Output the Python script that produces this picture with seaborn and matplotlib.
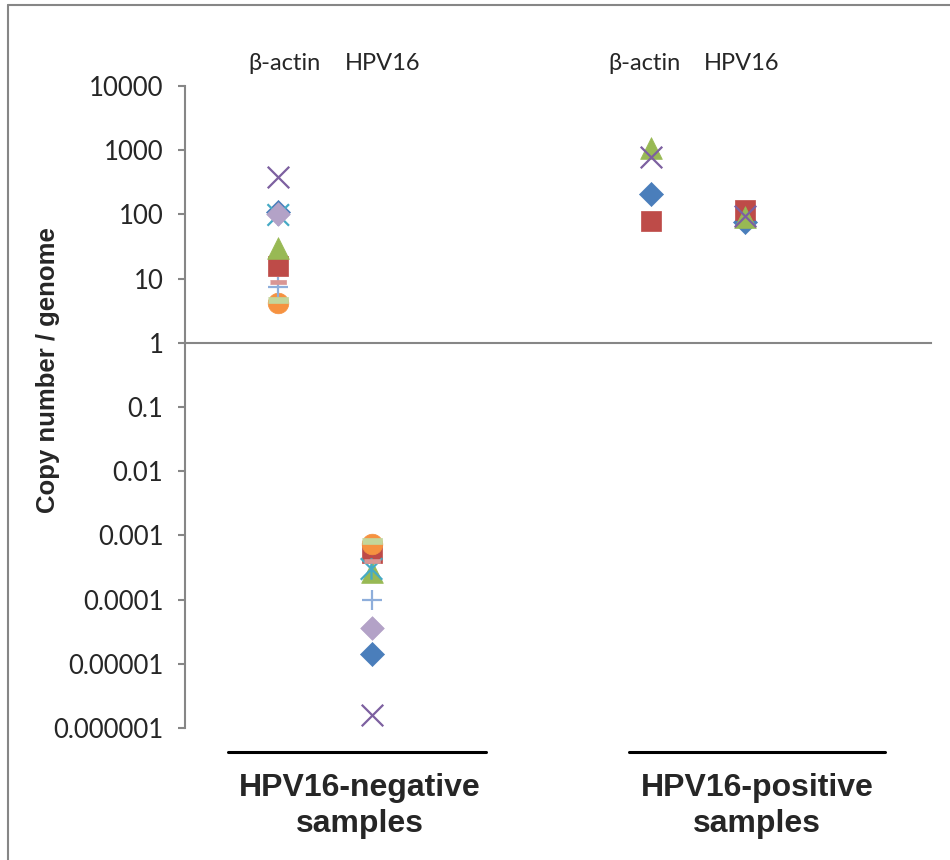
import matplotlib
matplotlib.use("Agg")
import matplotlib.pyplot as plt
from matplotlib.path import Path
from matplotlib.lines import Line2D
from matplotlib.ticker import FixedLocator, FuncFormatter, NullLocator
import numpy as np
import pandas as pd
import seaborn as sns

# x position of each column (like the x values of the original sheet)
col_x = {"neg_actin": 1, "neg_hpv": 2, "pos_actin": 5, "pos_hpv": 6}

# HPV16-negative samples (10 samples), copy number / genome
neg_actin = [110, 15.5, 30, 386, 98, 4.2, 7.4, 8.7, 4.7, 100]
neg_hpv = [1.44e-5, 5.4e-4, 2.7e-4, 1.6e-6, 3.0e-4, 7.3e-4, 1.0e-4, 4.0e-4, 8.1e-4, 3.6e-5]
# HPV16-positive samples (4 samples)
pos_actin = [209, 78, 1090, 790]
pos_hpv = [76, 116, 90, 95]

y_ticks = [1e-6, 1e-5, 1e-4, 1e-3, 1e-2, 1e-1, 1, 10, 100, 1000, 10000]
top_labels = ["β-actin", "HPV16", "β-actin", "HPV16"]
group_labels = ["HPV16-negative\nsamples", "HPV16-positive\nsamples"]

# excel-like marker cycle
star = Path([(-0.5, -0.5), (0.5, 0.5), (-0.5, 0.5), (0.5, -0.5), (0, -0.5), (0, 0.5)],
            [Path.MOVETO, Path.LINETO, Path.MOVETO, Path.LINETO, Path.MOVETO, Path.LINETO])
dash = [(-1, -0.3), (1, -0.3), (1, 0.3), (-1, 0.3)]
styles = [
    ("D", "#4A7EBB", 150, True),
    ("s", "#BE4B48", 220, True),
    ("^", "#98B954", 245, True),
    ("x", "#7D60A0", 240, False),
    (star, "#46AAC5", 240, "path"),
    ("o", "#F69240", 220, True),
    ("+", "#8EAEDB", 210, False),
    (dash, "#D99694", 130, True),
    (dash, "#C3D69B", 210, True),
    ("D", "#B3A2C7", 145, True),
]

rows = []
for i in range(len(neg_actin)):
    rows.append((i, col_x["neg_actin"], neg_actin[i]))
    rows.append((i, col_x["neg_hpv"], neg_hpv[i]))
for i in range(len(pos_actin)):
    rows.append((i, col_x["pos_actin"], pos_actin[i]))
    rows.append((i, col_x["pos_hpv"], pos_hpv[i]))
df = pd.DataFrame(rows, columns=["sample", "x", "copies"])

sns.set_style("white")
fig = plt.figure(figsize=(9.5, 8.6), dpi=100)
ax = fig.add_axes([185 / 950, 1 - 728 / 860, 746 / 950, 642 / 860])

for i, (mk, c, s, filled) in enumerate(styles):
    d = df[df["sample"] == i]
    if filled is True:
        sns.scatterplot(data=d, x="x", y="copies", marker=mk, s=s, color=c,
                        edgecolor=c, linewidth=0.5, ax=ax, zorder=3 + i)
    elif filled == "path":
        sns.scatterplot(data=d, x="x", y="copies", marker=mk, s=s, color=c,
                        facecolor="none", edgecolor=c, linewidth=1.6, ax=ax, zorder=3 + i)
    else:
        sns.scatterplot(data=d, x="x", y="copies", marker=mk, s=s, color=c,
                        linewidth=1.6, ax=ax, zorder=3 + i)

ax.set_yscale("log")
ax.set_ylim(1e-6, 1e4)
ax.set_xlim(0, 8)
ax.set_xlabel("")
ax.set_ylabel("")

grey = "#868686"
for side in ["top", "right"]:
    ax.spines[side].set_visible(False)
ax.spines["left"].set_color(grey)
ax.spines["left"].set_linewidth(1.5)
ax.spines["bottom"].set_position(("data", 1))
ax.spines["bottom"].set_color(grey)
ax.spines["bottom"].set_linewidth(1.5)

ax.yaxis.set_major_locator(FixedLocator(y_ticks))
ax.yaxis.set_minor_locator(NullLocator())
ax.yaxis.set_major_formatter(FuncFormatter(
    lambda v, p: f"{v:.{max(0, -int(round(np.log10(v))))}f}"))
ax.tick_params(axis="y", which="major", direction="out", length=5, width=1.5,
               color=grey, pad=10.5, left=True, labelsize=18.5)
ax.set_xticks([])
for lab in ax.get_yticklabels():
    lab.set_family(["Lato", "DejaVu Sans"])

# column titles
for lab, xp in zip(top_labels, [285, 383, 644, 742]):
    fig.text(xp / 950, 1 - 63 / 860, lab, ha="center", va="center",
             fontsize=17, family=["Lato", "DejaVu Sans"])

# group labels with rule above
for lab, xp, (x0, x1) in zip(group_labels, [360, 757], [(228, 486), (629, 885)]):
    fig.add_artist(Line2D([x0 / 950, x1 / 950], [1 - 752 / 860] * 2,
                          color="black", lw=2.2, transform=fig.transFigure))
    fig.text(xp / 950, 1 - 806 / 860, lab, ha="center", va="center",
             fontsize=23, fontweight="bold", linespacing=1.28,
             family=["Liberation Sans Narrow", "Liberation Sans"])

fig.text(48 / 950, 1 - 370 / 860, "Copy number / genome", rotation=90,
         ha="center", va="center", fontsize=18.5, fontweight="bold",
         family=["Liberation Sans Narrow", "Liberation Sans"])

# chart area border (only left/top fall inside the picture)
fig.add_artist(Line2D([7.5 / 950, 7.5 / 950], [0, 1 - 5 / 860], color=grey, lw=1.5,
                      transform=fig.transFigure))
fig.add_artist(Line2D([7.5 / 950, 1], [1 - 5 / 860] * 2, color=grey, lw=1.5,
                      transform=fig.transFigure))

fig.savefig("out.png", dpi=100)
